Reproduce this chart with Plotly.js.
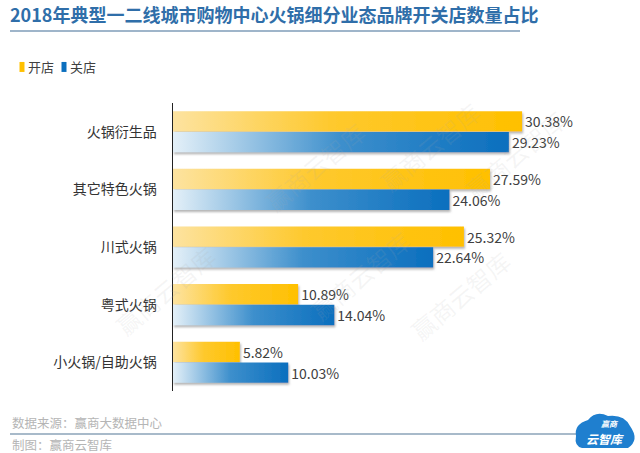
<!DOCTYPE html>
<html><head><meta charset="utf-8">
<script src="https://cdn.plot.ly/plotly-3.0.1.min.js"></script>
<style>html,body{margin:0;padding:0;background:#fff}#chart{width:640px;height:453px}</style>
</head><body><div id="chart"></div>
<script>
const categories = ['火锅衍生品','其它特色火锅','川式火锅','粤式火锅','小火锅/自助火锅'];
const openShare = [30.38, 27.59, 25.32, 10.89, 5.82];
const closeShare = [29.23, 24.06, 22.64, 14.04, 10.03];
const seriesNames = ['开店','关店'];
const titleText = '2018年典型一二线城市购物中心火锅细分业态品牌开关店数量占比';
const sourceText = '数据来源：赢商大数据中心';
const makerText = '制图：赢商云智库';

const FONT = '"Noto Sans CJK SC", "Noto Sans", sans-serif';
const L = 173, R = 620, T = 103, B = 391;
const px = x => (x - L) / (R - L);
const py = y => (B - y) / (B - T);

const traces = [
  {type:'bar', orientation:'h', name:seriesNames[0], y:categories, x:openShare,
   marker:{color:'#ffc000'}, texttemplate:'%{x:.2f}%', textposition:'outside',
   textfont:{size:14, color:'#404040', family:FONT}, cliponaxis:false, hoverinfo:'skip'},
  {type:'bar', orientation:'h', name:seriesNames[1], y:categories, x:closeShare,
   marker:{color:'#0b6fbe'}, texttemplate:'%{x:.2f}%', textposition:'outside',
   textfont:{size:14, color:'#404040', family:FONT}, cliponaxis:false, hoverinfo:'skip'}
];

const wm = [[255,112],[430,92],[575,100],[105,345],[300,330],[520,350]];
const annotations = [
  {text:sourceText, xref:'paper', yref:'paper', x:px(10), y:py(422), xanchor:'left', yanchor:'middle', showarrow:false, font:{size:12.5, color:'#b5b5b5', family:FONT}},
  {text:makerText, xref:'paper', yref:'paper', x:px(10), y:py(444), xanchor:'left', yanchor:'middle', showarrow:false, font:{size:12.5, color:'#b5b5b5', family:FONT}},
  {text:'<b><i>赢商</i></b>', xref:'paper', yref:'paper', x:px(610), y:py(423), xanchor:'center', yanchor:'middle', showarrow:false, font:{size:8, color:'#ffffff', family:FONT}},
  {text:'<b><i>云智库</i></b>', xref:'paper', yref:'paper', x:px(605), y:py(438), xanchor:'center', yanchor:'middle', showarrow:false, font:{size:12, color:'#ffffff', family:FONT}}
].concat(wm.map(p => ({text:'赢商云智库', xref:'paper', yref:'paper', x:px(p[0]), y:py(p[1]), showarrow:false, textangle:-40, font:{size:24, color:'rgba(170,170,170,0.12)', family:FONT}})));

const layout = {
  width:640, height:453,
  margin:{l:L, r:640-R, t:T, b:453-B, pad:0, autoexpand:false},
  paper_bgcolor:'#ffffff', plot_bgcolor:'#ffffff',
  font:{family:FONT},
  title:{text:titleText, xref:'container', yref:'container', x:10/640, xanchor:'left', y:1-16/453, yanchor:'middle',
         font:{size:18, color:'#2f6ea9', family:FONT, weight:700}},
  barmode:'group', bargap:0.28, bargroupgap:0.02,
  showlegend:true,
  legend:{orientation:'h', x:px(8), y:py(52), xanchor:'left', yanchor:'top', font:{size:13, color:'#404040', family:FONT}, itemwidth:30, tracegroupgap:0, bgcolor:'rgba(0,0,0,0)'},
  xaxis:{range:[0, 38.9], visible:false, fixedrange:true},
  yaxis:{type:'category', autorange:'reversed', showline:true, linecolor:'#222', linewidth:1.5, ticks:'', showgrid:false, zeroline:false,
         tickfont:{size:14, color:'#333', family:FONT}, ticklabelstandoff:12, fixedrange:true, automargin:false},
  shapes:[
    {type:'line', xref:'paper', yref:'paper', x0:px(10), x1:px(520), y0:py(31), y1:py(31), line:{color:'#7f9cb8', width:1.5}},
    {type:'line', xref:'paper', yref:'paper', x0:px(10), x1:px(600), y0:py(434), y1:py(434), line:{color:'#8ba3b8', width:1.5}},
    {type:'path', xref:'paper', yref:'paper', layer:'above',
     path:'M'+px(582)+','+py(448)+' L'+px(628)+','+py(448)+' Q'+px(640)+','+py(440)+' '+px(630)+','+py(426)+' Q'+px(624)+','+py(414)+' '+px(608)+','+py(416)+' Q'+px(596)+','+py(410)+' '+px(588)+','+py(420)+' Q'+px(574)+','+py(424)+' '+px(576)+','+py(436)+' Q'+px(574)+','+py(446)+' '+px(582)+','+py(448)+' Z',
     fillcolor:'#1f7fcf', line:{width:0}}
  ],
  annotations:annotations
};

Plotly.newPlot('chart', traces, layout, {staticPlot:true, displayModeBar:false}).then(gd => {
  const svg = gd.querySelector('.main-svg');
  const NS = 'http://www.w3.org/2000/svg';
  const defs = document.createElementNS(NS, 'defs');
  defs.innerHTML =
    '<linearGradient id="gOpen" x1="0" y1="0" x2="1" y2="0">' +
      '<stop offset="0" stop-color="#fde3a0"/><stop offset="0.45" stop-color="#fec92e"/><stop offset="1" stop-color="#ffc000"/></linearGradient>' +
    '<linearGradient id="gClose" x1="0" y1="0" x2="1" y2="0">' +
      '<stop offset="0" stop-color="#e4f0f8"/><stop offset="0.5" stop-color="#3d8fcc"/><stop offset="1" stop-color="#0b6fbe"/></linearGradient>' +
    '<filter id="shd" x="-5%" y="-20%" width="110%" height="160%"><feDropShadow dx="1" dy="2" stdDeviation="0.8" flood-color="#777" flood-opacity="0.55"/></filter>';
  svg.insertBefore(defs, svg.firstChild);
  const tr = gd.querySelectorAll('.barlayer .trace');
  const ids = ['gOpen','gClose'];
  tr.forEach((t, i) => {
    t.querySelectorAll('.point path').forEach(p => { p.style.fill = 'url(#' + ids[i] + ')'; p.setAttribute('filter','url(#shd)'); });
  });
  // compact legend entries like the reference
  let baseX = null, baseY = 0;
  gd.querySelectorAll('.legend .traces').forEach((g, i) => {
    const m = /translate\(([-\d.]+),\s*([-\d.]+)\)/.exec(g.getAttribute('transform') || '');
    if (m) { if (baseX === null) { baseX = parseFloat(m[1]); baseY = parseFloat(m[2]); }
      g.setAttribute('transform', 'translate(' + (baseX + i * 42) + ',' + baseY + ')'); }
    g.querySelectorAll('.legendpoints path').forEach(p => { p.setAttribute('d', 'M-2.5,-5H2.5V5H-2.5Z'); p.setAttribute('transform', 'translate(14,0)'); });
    const txt = g.querySelector('.legendtext');
    if (txt) txt.setAttribute('x', 20);
  });
});
</script></body></html>
